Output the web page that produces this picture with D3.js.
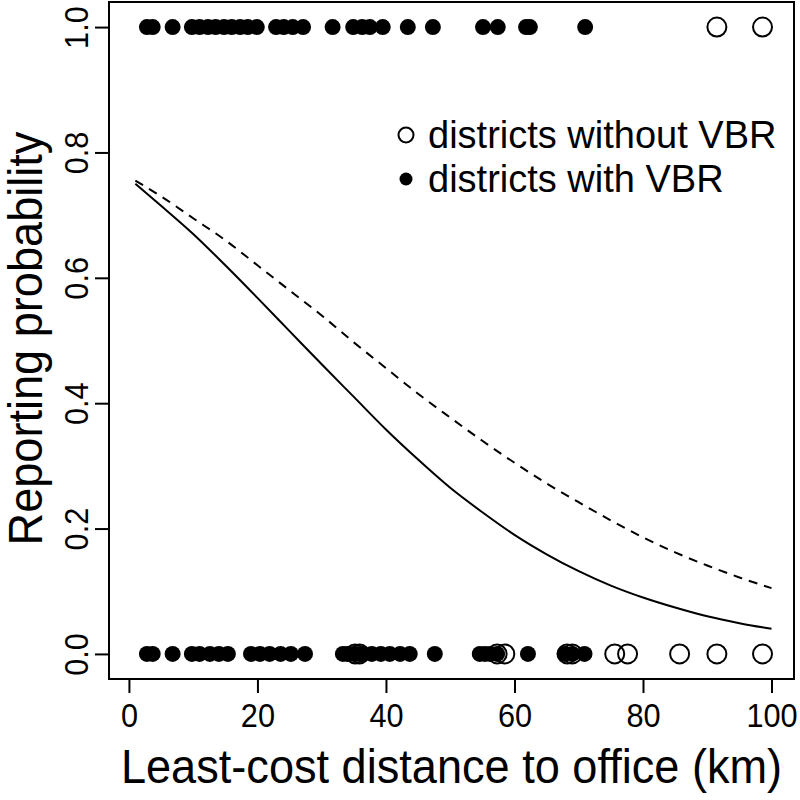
<!DOCTYPE html>
<html>
<head>
<meta charset="utf-8">
<script src="https://cdn.jsdelivr.net/npm/d3@7/dist/d3.min.js"></script>
<style>
  html, body { margin: 0; padding: 0; background: #fff; }
  svg { display: block; font-family: "Liberation Sans", Arial, Helvetica, sans-serif; }
</style>
</head>
<body>
<svg id="chart" width="800" height="800"></svg>
<script>
// ---- data ----
// districts with VBR (filled) that reported (y = 1)
const withVBR_reported = [2.8, 3.7, 6.8, 9.8, 11.0, 12.3, 13.5, 14.8, 16.0, 17.3, 18.5, 19.9,
  22.9, 24.1, 25.5, 27.1, 31.7, 34.9, 36.3, 37.5, 39.5, 43.4, 47.3, 55.1, 57.4, 61.8, 62.4, 71.0];
// districts with VBR (filled) that did not report (y = 0)
const withVBR_notReported = [2.8, 3.7, 6.8, 9.8, 11.0, 12.6, 14.0, 15.4, 19.0, 20.4, 21.9, 23.6,
  25.2, 27.4, 33.3, 34.0, 34.4, 35.5, 36.4, 37.8, 39.2, 40.6, 42.2, 43.7, 47.6, 54.6, 55.4,
  56.2, 57.3, 62.1, 67.8, 69.0, 70.9];
// districts without VBR (open)
const withoutVBR_reported = [91.5, 98.6];
const withoutVBR_notReported = [35.2, 35.9, 57.3, 58.5, 68.2, 69.0, 75.6, 77.6, 85.7, 91.5, 98.6];

// fitted curves
const curveX      = [1, 5, 10, 15, 20, 25, 30, 35, 40, 45, 50, 55, 60, 65, 70, 75, 80, 85, 90, 95, 100];
const solidCurve  = [0.75, 0.715, 0.67, 0.62, 0.568, 0.515, 0.462, 0.41, 0.358, 0.31, 0.265, 0.226,
  0.19, 0.159, 0.132, 0.109, 0.09, 0.074, 0.06, 0.049, 0.04];
const dashedCurve = [0.755, 0.73, 0.695, 0.66, 0.62, 0.58, 0.54, 0.497, 0.456, 0.415, 0.377, 0.34,
  0.305, 0.272, 0.242, 0.213, 0.186, 0.162, 0.141, 0.122, 0.105];

const xTicks = [0, 20, 40, 60, 80, 100];
const yTicks = [0.0, 0.2, 0.4, 0.6, 0.8, 1.0];
const xTitle = "Least-cost distance to office (km)";
const yTitle = "Reporting probability";
const legendLabels = ["districts without VBR", "districts with VBR"];

// ---- layout ----
const svg = d3.select("#chart");
const plot = { left: 109, right: 794, top: 2, bottom: 679 };
const FONT = "'Liberation Sans', Arial, sans-serif";

const x = d3.scaleLinear().domain([-3.1, 103.5]).range([plot.left, plot.right]);
const y = d3.scaleLinear().domain([-0.04, 1.04]).range([plot.bottom, plot.top]);

// frame
svg.append("rect")
  .attr("x", plot.left).attr("y", plot.top)
  .attr("width", plot.right - plot.left).attr("height", plot.bottom - plot.top)
  .attr("fill", "none").attr("stroke", "#000").attr("stroke-width", 2);

// x axis
const xAxis = d3.axisBottom(x).tickValues(xTicks).tickSize(14).tickPadding(10)
  .tickFormat(d3.format("d"));
const gx = svg.append("g").attr("transform", `translate(0,${plot.bottom})`).call(xAxis);
gx.select(".domain").remove();
gx.selectAll(".tick line").attr("stroke", "#000").attr("stroke-width", 2);
gx.selectAll(".tick text").attr("font-size", 33).attr("fill", "#000")
  .attr("font-family", FONT)
  .attr("dy", null).attr("y", null)
  .attr("transform", "translate(0,48) scale(0.93,1)");

// y axis
const yAxis = d3.axisLeft(y).tickValues(yTicks).tickSize(14).tickFormat(d3.format(".1f"));
const gy = svg.append("g").attr("transform", `translate(${plot.left},0)`).call(yAxis);
gy.select(".domain").remove();
gy.selectAll(".tick line").attr("stroke", "#000").attr("stroke-width", 2);
gy.selectAll(".tick text")
  .attr("font-size", 33).attr("fill", "#000")
  .attr("font-family", FONT)
  .attr("x", null).attr("dy", null)
  .attr("text-anchor", "middle")
  .attr("transform", "translate(-21,0) rotate(-90) scale(0.93,1)");

// axis titles
svg.append("text")
  .attr("transform", `translate(${(plot.left + plot.right) / 2},783) scale(0.94,1)`)
  .attr("text-anchor", "middle").attr("font-size", 48).attr("fill", "#000")
  .text(xTitle);
svg.append("text")
  .attr("transform", `translate(42,${(plot.top + plot.bottom) / 2 - 2}) rotate(-90) scale(0.94,1)`)
  .attr("text-anchor", "middle").attr("font-size", 48).attr("fill", "#000")
  .text(yTitle);

// curves
const line = d3.line().x(d => x(d[0])).y(d => y(d[1])).curve(d3.curveMonotoneX);
svg.append("path")
  .datum(curveX.map((v, i) => [v, solidCurve[i]]))
  .attr("d", line).attr("fill", "none").attr("stroke", "#000").attr("stroke-width", 2);
svg.append("path")
  .datum(curveX.map((v, i) => [v, dashedCurve[i]]))
  .attr("d", line).attr("fill", "none").attr("stroke", "#000").attr("stroke-width", 2)
  .attr("stroke-dasharray", "9,7");

// points
const filled = withVBR_reported.map(v => [v, 1]).concat(withVBR_notReported.map(v => [v, 0]));
const open = withoutVBR_reported.map(v => [v, 1]).concat(withoutVBR_notReported.map(v => [v, 0]));

svg.append("g").selectAll("circle").data(open).join("circle")
  .attr("cx", d => x(d[0])).attr("cy", d => y(d[1])).attr("r", 9.5)
  .attr("fill", "none").attr("stroke", "#000").attr("stroke-width", 2);
svg.append("g").selectAll("circle").data(filled).join("circle")
  .attr("cx", d => x(d[0])).attr("cy", d => y(d[1])).attr("r", 8)
  .attr("fill", "#000");

// legend
const lg = svg.append("g");
lg.append("circle").attr("cx", 406).attr("cy", 135).attr("r", 7.5)
  .attr("fill", "none").attr("stroke", "#000").attr("stroke-width", 2);
lg.append("circle").attr("cx", 406).attr("cy", 179).attr("r", 6.5).attr("fill", "#000");
lg.selectAll("text").data(legendLabels).join("text")
  .attr("x", 428).attr("y", (d, i) => 148 + i * 44)
  .attr("font-size", 38).attr("fill", "#000")
  .text(d => d);
</script>
</body>
</html>
